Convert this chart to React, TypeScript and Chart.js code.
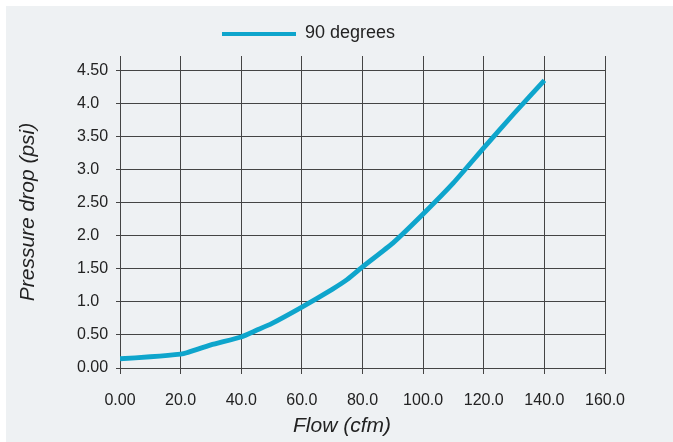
import React, { useEffect, useRef } from 'react';
import { Chart, registerables } from 'chart.js';

Chart.register(...registerables);

// ---- data ----
const seriesLabel = '90 degrees';
const flowCfm = [0, 10, 20, 22, 30, 40, 45, 50, 60, 70, 75, 80, 90, 100, 110, 120, 130, 140];
const pressurePsi = [0.14, 0.17, 0.21, 0.23, 0.35, 0.47, 0.57, 0.67, 0.92, 1.19, 1.34, 1.53, 1.89, 2.33, 2.8, 3.33, 3.85, 4.35];

const xTickValues = [0, 20, 40, 60, 80, 100, 120, 140, 160];
const xTickLabels = ['0.00', '20.0', '40.0', '60.0', '80.0', '100.0', '120.0', '140.0', '160.0'];
const yTickValues = [0, 0.5, 1, 1.5, 2, 2.5, 3, 3.5, 4, 4.5];
const yTickLabels = ['0.00', '0.50', '1.0', '1.50', '2.0', '2.50', '3.0', '3.50', '4.0', '4.50'];

const xTitle = 'Flow (cfm)';
const yTitle = 'Pressure drop (psi)';

// ---- styles ----
const FONT = '"Liberation Sans", Arial, Helvetica, sans-serif';
const TEXT = '#222222';
const GRID = '#444444';
const LINE = '#0ea5cc';
const PANEL = '#eef1f3';

const overlayPlugin = {
  id: 'overlayText',
  afterDraw(chart: any) {
    const ctx = chart.ctx as CanvasRenderingContext2D;
    const ds = chart.data.datasets[0];
    ctx.save();
    // legend
    ctx.fillStyle = ds.borderColor;
    ctx.fillRect(216, 26, 74, 4);
    ctx.font = `18px ${FONT}`;
    ctx.fillStyle = TEXT;
    ctx.textAlign = 'left';
    ctx.textBaseline = 'middle';
    ctx.fillText(ds.label, 299, 27.5);
    // x axis title
    ctx.font = `italic 21px ${FONT}`;
    ctx.textAlign = 'center';
    ctx.fillText(xTitle, 336, 420);
    ctx.restore();
  },
};

export default function App() {
  const ref = useRef<HTMLCanvasElement | null>(null);

  useEffect(() => {
    if (!ref.current) return;
    const chart = new Chart(ref.current, {
      type: 'line',
      data: {
        datasets: [
          {
            label: seriesLabel,
            data: flowCfm.map((x, i) => ({ x, y: pressurePsi[i] })),
            borderColor: LINE,
            backgroundColor: LINE,
            borderWidth: 4.8,
            pointRadius: 0,
            tension: 0.15,
            borderJoinStyle: 'round',
            fill: false,
          },
        ],
      },
      options: {
        animation: false,
        responsive: false,
        maintainAspectRatio: false,
        layout: { padding: { top: 50, left: 71, right: 68, bottom: 0 } },
        plugins: {
          legend: { display: false },
          tooltip: { enabled: false },
        },
        scales: {
          x: {
            type: 'linear',
            min: 0,
            max: 160,
            afterBuildTicks: (s: any) => {
              s.ticks = xTickValues.map((v) => ({ value: v }));
            },
            afterFit: (s: any) => {
              s.height = 74;
            },
            ticks: {
              autoSkip: false,
              maxRotation: 0,
              padding: 17,
              color: TEXT,
              font: { family: FONT, size: 16 },
              callback: (_v: any, i: number) => xTickLabels[i],
            },
            grid: { color: GRID, lineWidth: 1, tickLength: 6 },
            border: { color: GRID, width: 1 },
          },
          y: {
            type: 'linear',
            min: 0,
            max: 4.72,
            afterBuildTicks: (s: any) => {
              s.ticks = yTickValues.map((v) => ({ value: v }));
            },
            afterFit: (s: any) => {
              s.width = 43;
            },
            ticks: {
              autoSkip: false,
              crossAlign: 'far',
              padding: 4,
              color: TEXT,
              font: { family: FONT, size: 16 },
              callback: (_v: any, i: number) => yTickLabels[i],
            },
            grid: { color: GRID, lineWidth: 1, tickLength: 4 },
            border: { color: GRID, width: 1 },
            title: {
              display: true,
              text: yTitle,
              color: TEXT,
              font: { family: FONT, size: 21, style: 'italic' },
              padding: { top: -61.6, bottom: 0 },
            },
          },
        },
      },
      plugins: [overlayPlugin],
    } as any);
    return () => chart.destroy();
  }, []);

  return (
    <div style={{ position: 'fixed', left: 0, top: 0, width: 673, height: 442, background: '#ffffff' }}>
      <div style={{ position: 'absolute', left: 6, top: 6, width: 667, height: 436, background: PANEL }}>
        <canvas ref={ref} width={667} height={436} style={{ display: 'block', width: 667, height: 436 }} />
      </div>
    </div>
  );
}
